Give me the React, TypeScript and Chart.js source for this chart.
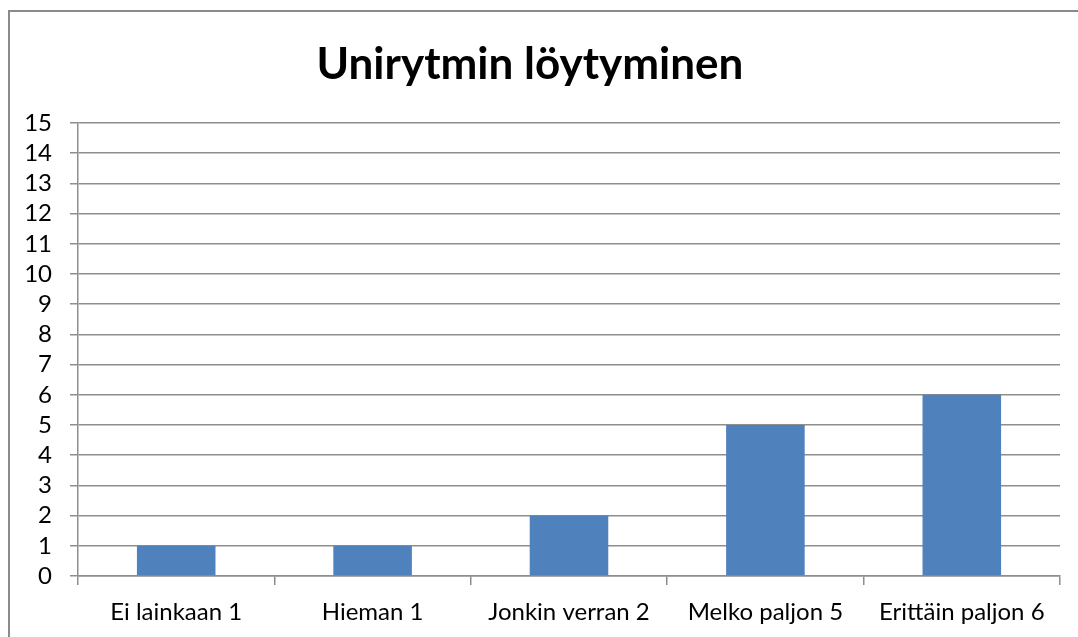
import React, { useEffect, useRef } from "react";
import { Chart, registerables } from "chart.js";

Chart.register(...registerables);

const categories = ["Ei lainkaan 1", "Hieman 1", "Jonkin verran 2", "Melko paljon 5", "Erittäin paljon 6"];
const values = [1, 1, 2, 5, 6];
const chartTitle = "Unirytmin löytyminen";
const yMin = 0;
const yMax = 15;
const yStep = 1;

const FONT = "Lato, 'Open Sans', sans-serif";
const GRID = "#8e8e8e";

export default function App() {
  const ref = useRef<HTMLCanvasElement | null>(null);

  useEffect(() => {
    if (!ref.current) return;
    const chart = new Chart(ref.current, {
      type: "bar",
      data: {
        labels: categories,
        datasets: [
          {
            data: values,
            backgroundColor: "#4F81BD",
            borderWidth: 0,
            categoryPercentage: 1,
            barPercentage: 0.4,
          },
        ],
      },
      options: {
        animation: false,
        responsive: false,
        maintainAspectRatio: false,
        layout: { padding: { left: 0, right: 18, top: 0, bottom: 0 } },
        plugins: {
          legend: { display: false },
          tooltip: { enabled: false },
          title: {
            display: true,
            text: chartTitle,
            color: "#000",
            font: { family: FONT, size: 44, weight: "bold", lineHeight: 1.2 },
            padding: { top: 38.6, bottom: 31.6 },
          },
        },
        scales: {
          x: {
            grid: {
              display: true,
              drawOnChartArea: false,
              drawTicks: true,
              tickLength: 9,
              offset: true,
              color: GRID,
              lineWidth: 1.5,
            },
            border: { display: true, color: GRID, width: 1.5 },
            ticks: {
              color: "#000",
              font: { family: FONT, size: 24 },
              padding: 13,
              maxRotation: 0,
              autoSkip: false,
            },
            afterFit: (s: any) => {
              s.height = 61;
            },
          },
          y: {
            min: yMin,
            max: yMax,
            grid: {
              color: GRID,
              lineWidth: 1.5,
              drawTicks: true,
              tickLength: 8,
            },
            border: { display: true, color: GRID, width: 1.5 },
            ticks: {
              stepSize: yStep,
              autoSkip: false,
              color: "#000",
              font: { family: FONT, size: 24, lineHeight: 1 },
              padding: 18,
            },
            afterFit: (s: any) => {
              s.width = 78;
            },
          },
        },
      },
    });
    return () => chart.destroy();
  }, []);

  return (
    <div
      style={{
        position: "fixed",
        left: 0,
        top: 0,
        width: 1078,
        height: 637,
        overflow: "hidden",
        background: "#fff",
      }}
    >
      <div
        style={{
          position: "absolute",
          left: 8,
          top: 10,
          width: 1200,
          height: 800,
          borderLeft: "2px solid #8a8a8a",
          borderTop: "2px solid #8a8a8a",
        }}
      />
      <canvas
        ref={ref}
        width={1078}
        height={637}
        style={{ position: "absolute", left: 0, top: 0, width: 1078, height: 637 }}
      />
    </div>
  );
}
